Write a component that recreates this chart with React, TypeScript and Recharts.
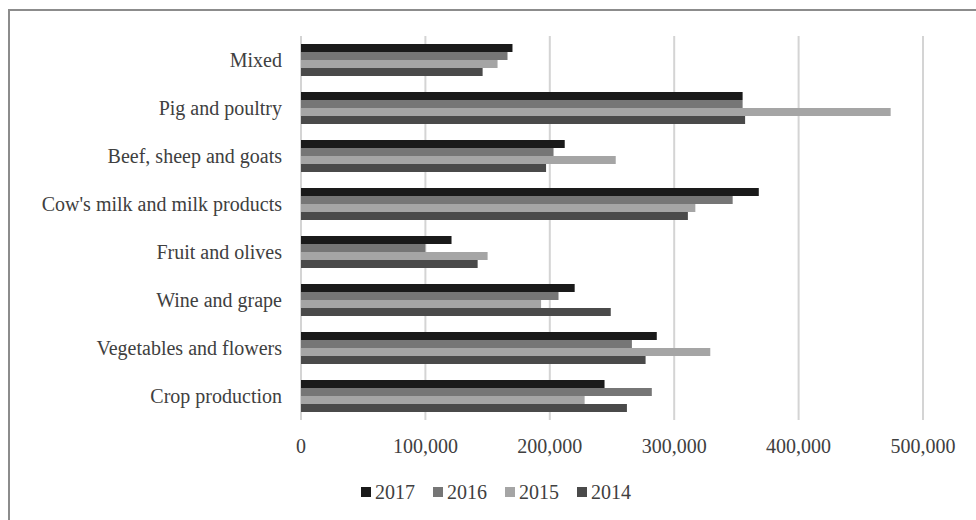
import { Bar, BarChart, CartesianGrid, Legend, XAxis, YAxis } from 'recharts';

const categories = [
  'Mixed',
  'Pig and poultry',
  'Beef, sheep and goats',
  "Cow's milk and milk products",
  'Fruit and olives',
  'Wine and grape',
  'Vegetables and flowers',
  'Crop production',
];
const v2017 = [170000, 355000, 212000, 368000, 121000, 220000, 286000, 244000];
const v2016 = [166000, 355000, 203000, 347000, 100000, 207000, 266000, 282000];
const v2015 = [158000, 474000, 253000, 317000, 150000, 193000, 329000, 228000];
const v2014 = [146000, 357000, 197000, 311000, 142000, 249000, 277000, 262000];
const xTicks = [0, 100000, 200000, 300000, 400000, 500000];

const series = [
  { key: '2017', color: '#1a1a1a' },
  { key: '2016', color: '#767676' },
  { key: '2015', color: '#a5a5a5' },
  { key: '2014', color: '#4a4a4a' },
];

const data = categories.map((name, i) => ({
  name,
  '2017': v2017[i],
  '2016': v2016[i],
  '2015': v2015[i],
  '2014': v2014[i],
}));

const font = '"Liberation Serif", "Times New Roman", serif';
const textColor = '#404040';

function LegendRow() {
  return (
    <div style={{ display: 'flex', alignItems: 'center', fontFamily: font, fontSize: 20, color: textColor }}>
      {series.map((s) => (
        <div key={s.key} style={{ display: 'flex', alignItems: 'center', marginRight: 18 }}>
          <span style={{ width: 10, height: 10, background: s.color, marginRight: 4, display: 'inline-block' }} />
          <span style={{ lineHeight: '20px' }}>{s.key}</span>
        </div>
      ))}
    </div>
  );
}

export default function App() {
  return (
    <div style={{ position: 'absolute', left: 0, top: 0, width: 976, height: 520, background: '#fff', overflow: 'hidden' }}>
      <div
        style={{
          position: 'absolute',
          left: 8,
          top: 9,
          width: 1000,
          height: 600,
          borderLeft: '2px solid #8c8c8c',
          borderTop: '2px solid #8c8c8c',
        }}
      />
      <div style={{ position: 'absolute', left: 0, top: 0 }}>
        <BarChart
          width={976}
          height={520}
          data={data}
          layout="vertical"
          margin={{ top: 36, right: 53, left: 0, bottom: 70 }}
          barCategoryGap={8}
          barGap={0}
        >
          <CartesianGrid horizontal={false} stroke="#d4d4d4" strokeWidth={2} />
          <XAxis
            type="number"
            domain={[0, 500000]}
            ticks={xTicks}
            interval={0}
            height={30}
            axisLine={false}
            tickLine={false}
            tickSize={0}
            tickMargin={19}
            tickFormatter={(v: number) => v.toLocaleString('en-US')}
            tick={{ fontSize: 20, fontFamily: font, fill: textColor }}
          />
          <YAxis
            type="category"
            dataKey="name"
            width={301}
            axisLine={false}
            tickLine={false}
            tickSize={0}
            tickMargin={19}
            interval={0}
            tick={{ fontSize: 20, fontFamily: font, fill: textColor }}
          />
          <Legend
            layout="horizontal"
            verticalAlign="middle"
            align="center"
            content={() => <LegendRow />}
            wrapperStyle={{ left: 361, top: 482, width: 'auto', height: 20 }}
          />
          {series.map((s) => (
            <Bar key={s.key} dataKey={s.key} fill={s.color} isAnimationActive={false} />
          ))}
        </BarChart>
      </div>
    </div>
  );
}
